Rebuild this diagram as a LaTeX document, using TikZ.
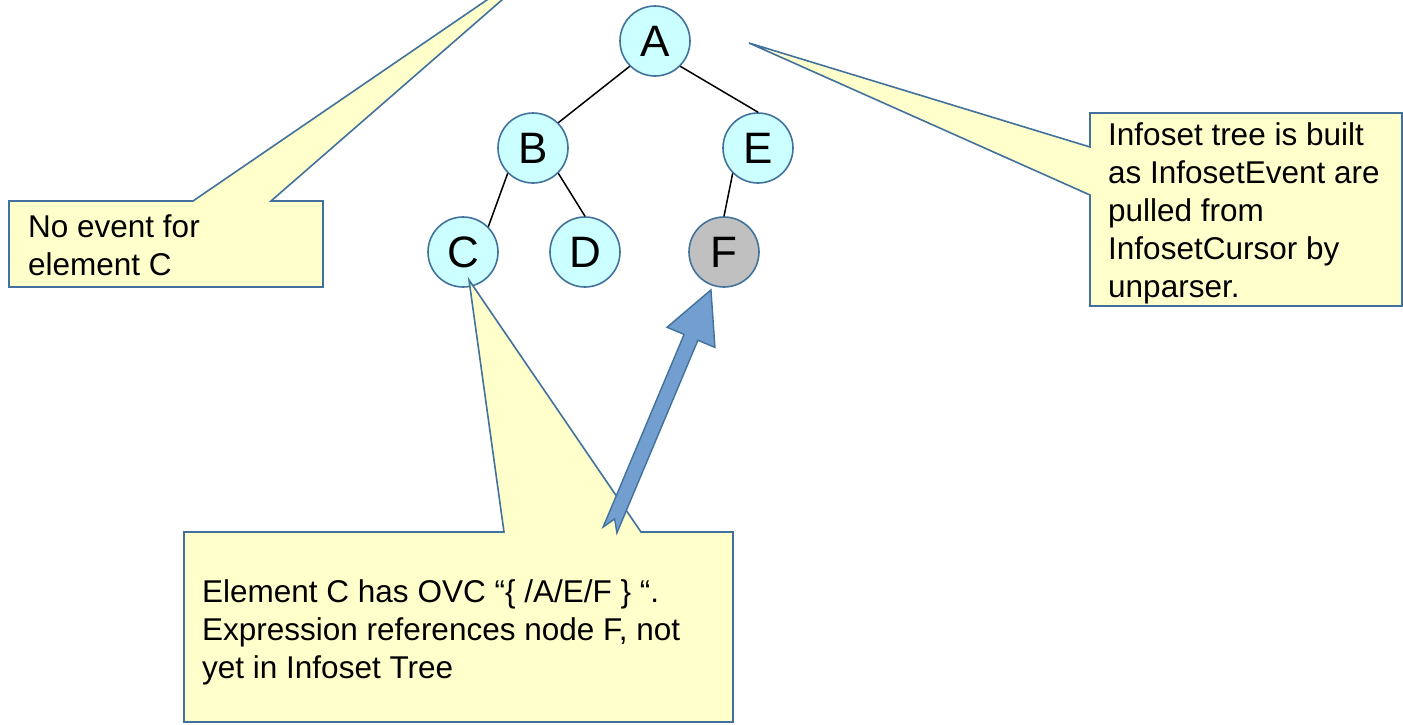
\documentclass[tikz,border=0pt]{standalone}
\usepackage{fontspec}
\setmainfont{Liberation Sans}
\definecolor{lineblue}{RGB}{65,113,156}
\definecolor{nodecyan}{RGB}{204,255,255}
\definecolor{nodegray}{RGB}{192,192,192}
\definecolor{noteyellow}{RGB}{255,255,204}
\definecolor{arrowblue}{RGB}{114,159,207}
\begin{document}
\begin{tikzpicture}[x=1pt,y=-1pt,
  tnode/.style={circle, draw=lineblue, line width=1.6pt, fill=nodecyan,
    minimum size=70pt, inner sep=0pt, font=\fontsize{44}{50}\selectfont},
  edge/.style={black, line width=1.5pt},
  callout/.style={draw=lineblue, line width=1.6pt, fill=noteyellow, line join=miter},
  notetext/.style={anchor=north west, inner sep=0pt, align=left,
    font=\fontsize{31.5}{38}\selectfont},
  bigarrow/.style={draw=lineblue, line width=1.4pt, fill=arrowblue, line join=miter},
]
\useasboundingbox (0,0) rectangle (1403,724);
\clip (0,0) rectangle (1403,724);

% tree
\node[tnode] (A) at (655,41) {A};
\node[tnode] (B) at (533,148) {B};
\node[tnode] (E) at (758,148) {E};
\node[tnode] (C) at (463,252) {C};
\node[tnode] (D) at (585,252) {D};
\node[tnode, fill=nodegray] (F) at (724,252) {F};

\draw[edge] (A.south west) -- (B.north east);
\draw[edge] (A.south east) -- (E.north);
\draw[edge] (B.south west) -- (C.north east);
\draw[edge] (B.south east) -- (D.north);
\draw[edge] (E.south west) -- (F.north);

% callouts
\draw[callout] (9,201) -- (193,201) -- (557,-48) -- (271,201) -- (323,201)
  -- (323,287) -- (9,287) -- cycle;
\draw[callout] (1090,113) -- (1402,113) -- (1402,306) -- (1090,306)
  -- (1090,195) -- (749,43) -- (1090,147) -- cycle;
\draw[callout] (184,532) -- (504,532) -- (469,280) -- (641,532) -- (733,532)
  -- (733,722) -- (184,722) -- cycle;

\node[notetext] (note1) at (28,214) {No event for\\element C};
\node[notetext] (note2) at (1108,122) {Infoset tree is built\\as InfosetEvent are\\pulled from\\InfosetCursor by\\unparser.};
\node[notetext] (note3) at (202,579) {Element C has OVC “\{ /A/E/F \} “.\\Expression references node F, not\\yet in Infoset Tree};

% notched block arrow pointing at F
\coordinate (tail) at (610,530);
\begin{scope}[shift={(tail)}, rotate=67.2]
  \draw[bigarrow] (0,-7.5) -- (12,0) -- (0,7.5) -- (209,7.5) -- (209,26)
    -- (260.5,0) -- (209,-26) -- (209,-7.5) -- cycle;
\end{scope}
\end{tikzpicture}
\end{document}
